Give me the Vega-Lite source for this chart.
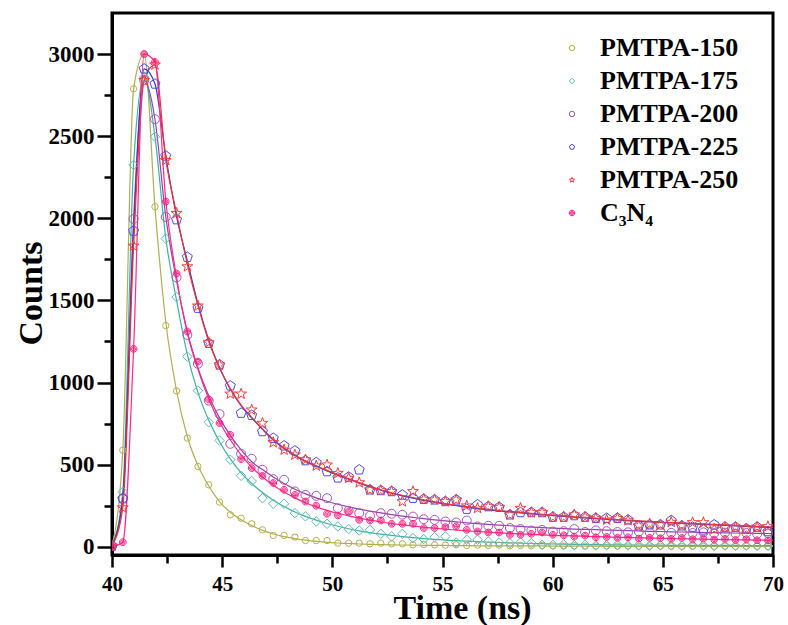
{
"$schema": "https://vega.github.io/schema/vega-lite/v6.json",
"width": 661, "height": 542,
"autosize": "none",
"padding": {"left": 112, "top": 13, "right": 15, "bottom": 70},
"background": "white",
"config": {
  "view": {"stroke": "black", "strokeWidth": 3},
  "font": "Liberation Serif",
  "axis": {"grid": false, "domainColor": "black", "domainWidth": 3, "tickColor": "black", "tickWidth": 2.5,
    "labelFont": "Liberation Serif", "labelFontWeight": "bold", "labelColor": "black", "labelFlush": false, "labelOverlap": false,
    "titleFont": "Liberation Serif", "titleFontWeight": "bold", "titleFontSize": 34, "titleColor": "black"}
},
"datasets": {
"pts": [
{"t":40,"PMTPA-150":2,"PMTPA-175":5,"PMTPA-200":5,"PMTPA-225":5,"PMTPA-250":5,"C3N4":0},
{"t":40.49,"PMTPA-150":588,"PMTPA-175":335,"PMTPA-200":296,"PMTPA-225":293,"PMTPA-250":238,"C3N4":28},
{"t":40.98,"PMTPA-150":2788,"PMTPA-175":2325,"PMTPA-200":1996,"PMTPA-225":1923,"PMTPA-250":1832,"C3N4":1205},
{"t":41.46,"PMTPA-150":3000,"PMTPA-175":2860,"PMTPA-200":2840,"PMTPA-225":2910,"PMTPA-250":2840,"C3N4":3000},
{"t":41.95,"PMTPA-150":2071,"PMTPA-175":2497,"PMTPA-200":2603,"PMTPA-225":2818,"PMTPA-250":2935,"C3N4":2952},
{"t":42.44,"PMTPA-150":1347,"PMTPA-175":1876,"PMTPA-200":2008,"PMTPA-225":2380,"PMTPA-250":2353,"C3N4":2102},
{"t":42.93,"PMTPA-150":949,"PMTPA-175":1520,"PMTPA-200":1640,"PMTPA-225":1992,"PMTPA-250":2031,"C3N4":1664},
{"t":43.42,"PMTPA-150":662,"PMTPA-175":1158,"PMTPA-200":1290,"PMTPA-225":1763,"PMTPA-250":1706,"C3N4":1311},
{"t":43.9,"PMTPA-150":489,"PMTPA-175":951,"PMTPA-200":1114,"PMTPA-225":1453,"PMTPA-250":1467,"C3N4":1128},
{"t":44.39,"PMTPA-150":377,"PMTPA-175":758,"PMTPA-200":890,"PMTPA-225":1240,"PMTPA-250":1244,"C3N4":897},
{"t":44.88,"PMTPA-150":272,"PMTPA-175":647,"PMTPA-200":808,"PMTPA-225":1108,"PMTPA-250":1108,"C3N4":753},
{"t":45.37,"PMTPA-150":195,"PMTPA-175":530,"PMTPA-200":627,"PMTPA-225":980,"PMTPA-250":931,"C3N4":682},
{"t":45.86,"PMTPA-150":174,"PMTPA-175":432,"PMTPA-200":566,"PMTPA-225":814,"PMTPA-250":931,"C3N4":534},
{"t":46.34,"PMTPA-150":140,"PMTPA-175":400,"PMTPA-200":536,"PMTPA-225":801,"PMTPA-250":834,"C3N4":479},
{"t":46.83,"PMTPA-150":103,"PMTPA-175":296,"PMTPA-200":469,"PMTPA-225":702,"PMTPA-250":753,"C3N4":432},
{"t":47.32,"PMTPA-150":69,"PMTPA-175":262,"PMTPA-200":412,"PMTPA-225":661,"PMTPA-250":635,"C3N4":388},
{"t":47.81,"PMTPA-150":69,"PMTPA-175":262,"PMTPA-200":408,"PMTPA-225":615,"PMTPA-250":590,"C3N4":347},
{"t":48.3,"PMTPA-150":59,"PMTPA-175":205,"PMTPA-200":337,"PMTPA-225":584,"PMTPA-250":560,"C3N4":316},
{"t":48.78,"PMTPA-150":38,"PMTPA-175":185,"PMTPA-200":316,"PMTPA-225":525,"PMTPA-250":530,"C3N4":276},
{"t":49.27,"PMTPA-150":38,"PMTPA-175":154,"PMTPA-200":310,"PMTPA-225":513,"PMTPA-250":493,"C3N4":250},
{"t":49.76,"PMTPA-150":38,"PMTPA-175":140,"PMTPA-200":296,"PMTPA-225":458,"PMTPA-250":499,"C3N4":201},
{"t":50.25,"PMTPA-150":22,"PMTPA-175":124,"PMTPA-200":235,"PMTPA-225":420,"PMTPA-250":448,"C3N4":191},
{"t":50.74,"PMTPA-150":22,"PMTPA-175":108,"PMTPA-200":220,"PMTPA-225":425,"PMTPA-250":418,"C3N4":215},
{"t":51.22,"PMTPA-150":22,"PMTPA-175":99,"PMTPA-200":205,"PMTPA-225":469,"PMTPA-250":391,"C3N4":164},
{"t":51.71,"PMTPA-150":18,"PMTPA-175":103,"PMTPA-200":189,"PMTPA-225":347,"PMTPA-250":347,"C3N4":160},
{"t":52.2,"PMTPA-150":22,"PMTPA-175":79,"PMTPA-200":205,"PMTPA-225":343,"PMTPA-250":343,"C3N4":160},
{"t":52.69,"PMTPA-150":18,"PMTPA-175":63,"PMTPA-200":201,"PMTPA-225":337,"PMTPA-250":337,"C3N4":140},
{"t":53.18,"PMTPA-150":18,"PMTPA-175":79,"PMTPA-200":195,"PMTPA-225":316,"PMTPA-250":276,"C3N4":140},
{"t":53.66,"PMTPA-150":12,"PMTPA-175":53,"PMTPA-200":184,"PMTPA-225":296,"PMTPA-250":337,"C3N4":140},
{"t":54.15,"PMTPA-150":14,"PMTPA-175":47,"PMTPA-200":168,"PMTPA-225":290,"PMTPA-250":290,"C3N4":114},
{"t":54.64,"PMTPA-150":12,"PMTPA-175":59,"PMTPA-200":164,"PMTPA-225":286,"PMTPA-250":286,"C3N4":114},
{"t":55.13,"PMTPA-150":10,"PMTPA-175":63,"PMTPA-200":154,"PMTPA-225":276,"PMTPA-250":276,"C3N4":120},
{"t":55.62,"PMTPA-150":12,"PMTPA-175":26,"PMTPA-200":148,"PMTPA-225":286,"PMTPA-250":286,"C3N4":124},
{"t":56.1,"PMTPA-150":8,"PMTPA-175":43,"PMTPA-200":160,"PMTPA-225":229,"PMTPA-250":250,"C3N4":103},
{"t":56.59,"PMTPA-150":10,"PMTPA-175":43,"PMTPA-200":124,"PMTPA-225":256,"PMTPA-250":235,"C3N4":93},
{"t":57.08,"PMTPA-150":8,"PMTPA-175":32,"PMTPA-200":128,"PMTPA-225":245,"PMTPA-250":245,"C3N4":87},
{"t":57.57,"PMTPA-150":10,"PMTPA-175":26,"PMTPA-200":128,"PMTPA-225":241,"PMTPA-250":241,"C3N4":87},
{"t":58.06,"PMTPA-150":6,"PMTPA-175":22,"PMTPA-200":114,"PMTPA-225":195,"PMTPA-250":195,"C3N4":73},
{"t":58.54,"PMTPA-150":8,"PMTPA-175":26,"PMTPA-200":108,"PMTPA-225":209,"PMTPA-250":235,"C3N4":73},
{"t":59.03,"PMTPA-150":6,"PMTPA-175":22,"PMTPA-200":99,"PMTPA-225":209,"PMTPA-250":209,"C3N4":79},
{"t":59.52,"PMTPA-150":8,"PMTPA-175":12,"PMTPA-200":103,"PMTPA-225":209,"PMTPA-250":209,"C3N4":87},
{"t":60.01,"PMTPA-150":6,"PMTPA-175":12,"PMTPA-200":93,"PMTPA-225":181,"PMTPA-250":181,"C3N4":73},
{"t":60.5,"PMTPA-150":5,"PMTPA-175":14,"PMTPA-200":95,"PMTPA-225":181,"PMTPA-250":181,"C3N4":70},
{"t":60.98,"PMTPA-150":6,"PMTPA-175":10,"PMTPA-200":108,"PMTPA-225":190,"PMTPA-250":195,"C3N4":62},
{"t":61.47,"PMTPA-150":4,"PMTPA-175":12,"PMTPA-200":90,"PMTPA-225":181,"PMTPA-250":181,"C3N4":68},
{"t":61.96,"PMTPA-150":5,"PMTPA-175":8,"PMTPA-200":100,"PMTPA-225":174,"PMTPA-250":174,"C3N4":58},
{"t":62.45,"PMTPA-150":6,"PMTPA-175":10,"PMTPA-200":95,"PMTPA-225":174,"PMTPA-250":164,"C3N4":60},
{"t":62.94,"PMTPA-150":4,"PMTPA-175":12,"PMTPA-200":90,"PMTPA-225":174,"PMTPA-250":174,"C3N4":55},
{"t":63.42,"PMTPA-150":5,"PMTPA-175":8,"PMTPA-200":88,"PMTPA-225":164,"PMTPA-250":160,"C3N4":58},
{"t":63.91,"PMTPA-150":3,"PMTPA-175":10,"PMTPA-200":92,"PMTPA-225":128,"PMTPA-250":128,"C3N4":50},
{"t":64.4,"PMTPA-150":5,"PMTPA-175":6,"PMTPA-200":88,"PMTPA-225":134,"PMTPA-250":140,"C3N4":55},
{"t":64.89,"PMTPA-150":4,"PMTPA-175":10,"PMTPA-200":92,"PMTPA-225":134,"PMTPA-250":134,"C3N4":52},
{"t":65.38,"PMTPA-150":4,"PMTPA-175":8,"PMTPA-200":85,"PMTPA-225":160,"PMTPA-250":150,"C3N4":48},
{"t":65.86,"PMTPA-150":3,"PMTPA-175":6,"PMTPA-200":90,"PMTPA-225":128,"PMTPA-250":128,"C3N4":54},
{"t":66.35,"PMTPA-150":4,"PMTPA-175":9,"PMTPA-200":84,"PMTPA-225":120,"PMTPA-250":148,"C3N4":46},
{"t":66.84,"PMTPA-150":3,"PMTPA-175":8,"PMTPA-200":88,"PMTPA-225":103,"PMTPA-250":148,"C3N4":50},
{"t":67.33,"PMTPA-150":3,"PMTPA-175":5,"PMTPA-200":82,"PMTPA-225":134,"PMTPA-250":108,"C3N4":44},
{"t":67.82,"PMTPA-150":4,"PMTPA-175":8,"PMTPA-200":86,"PMTPA-225":120,"PMTPA-250":120,"C3N4":48},
{"t":68.3,"PMTPA-150":2,"PMTPA-175":6,"PMTPA-200":80,"PMTPA-225":120,"PMTPA-250":120,"C3N4":42},
{"t":68.79,"PMTPA-150":3,"PMTPA-175":7,"PMTPA-200":84,"PMTPA-225":110,"PMTPA-250":110,"C3N4":46},
{"t":69.28,"PMTPA-150":3,"PMTPA-175":5,"PMTPA-200":78,"PMTPA-225":120,"PMTPA-250":120,"C3N4":40},
{"t":69.77,"PMTPA-150":2,"PMTPA-175":6,"PMTPA-200":82,"PMTPA-225":93,"PMTPA-250":124,"C3N4":38}
],
"fit": [
{"t":40,"PMTPA-150":2,"PMTPA-175":5,"PMTPA-200":5,"PMTPA-225":5,"PMTPA-250":5,"C3N4":0},
{"t":40.49,"PMTPA-150":588,"PMTPA-175":335,"PMTPA-200":296,"PMTPA-225":293,"PMTPA-250":238,"C3N4":28},
{"t":40.98,"PMTPA-150":2788,"PMTPA-175":2325,"PMTPA-200":1996,"PMTPA-225":1923,"PMTPA-250":1832,"C3N4":1205},
{"t":41.46,"PMTPA-150":3000,"PMTPA-175":2860,"PMTPA-200":2840,"PMTPA-225":2910,"PMTPA-250":2840,"C3N4":3000},
{"t":41.95,"PMTPA-150":2071,"PMTPA-175":2497,"PMTPA-200":2603,"PMTPA-225":2818,"PMTPA-250":2935,"C3N4":2952},
{"t":42.44,"PMTPA-150":1370,"PMTPA-175":1880,"PMTPA-200":2010,"PMTPA-225":2380,"PMTPA-250":2360,"C3N4":2110},
{"t":42.93,"PMTPA-150":950,"PMTPA-175":1500,"PMTPA-200":1620,"PMTPA-225":2010,"PMTPA-250":2030,"C3N4":1640},
{"t":43.42,"PMTPA-150":670,"PMTPA-175":1170,"PMTPA-200":1310,"PMTPA-225":1740,"PMTPA-250":1720,"C3N4":1300},
{"t":43.9,"PMTPA-150":495,"PMTPA-175":940,"PMTPA-200":1090,"PMTPA-225":1480,"PMTPA-250":1470,"C3N4":1080},
{"t":44.39,"PMTPA-150":370,"PMTPA-175":770,"PMTPA-200":920,"PMTPA-225":1260,"PMTPA-250":1250,"C3N4":900},
{"t":44.88,"PMTPA-150":275,"PMTPA-175":640,"PMTPA-200":785,"PMTPA-225":1090,"PMTPA-250":1090,"C3N4":760},
{"t":45.37,"PMTPA-150":210,"PMTPA-175":535,"PMTPA-200":678,"PMTPA-225":960,"PMTPA-250":962,"C3N4":650},
{"t":45.86,"PMTPA-150":165,"PMTPA-175":450,"PMTPA-200":590,"PMTPA-225":860,"PMTPA-250":863,"C3N4":560},
{"t":46.34,"PMTPA-150":130,"PMTPA-175":385,"PMTPA-200":518,"PMTPA-225":785,"PMTPA-250":788,"C3N4":485},
{"t":46.83,"PMTPA-150":100,"PMTPA-175":330,"PMTPA-200":470,"PMTPA-225":715,"PMTPA-250":718,"C3N4":425},
{"t":47.32,"PMTPA-150":78,"PMTPA-175":283,"PMTPA-200":425,"PMTPA-225":650,"PMTPA-250":653,"C3N4":375},
{"t":47.81,"PMTPA-150":62,"PMTPA-175":245,"PMTPA-200":385,"PMTPA-225":598,"PMTPA-250":601,"C3N4":333},
{"t":48.3,"PMTPA-150":50,"PMTPA-175":212,"PMTPA-200":350,"PMTPA-225":556,"PMTPA-250":559,"C3N4":298},
{"t":48.78,"PMTPA-150":40,"PMTPA-175":185,"PMTPA-200":322,"PMTPA-225":520,"PMTPA-250":523,"C3N4":268},
{"t":49.27,"PMTPA-150":33,"PMTPA-175":162,"PMTPA-200":298,"PMTPA-225":490,"PMTPA-250":493,"C3N4":243},
{"t":49.76,"PMTPA-150":27,"PMTPA-175":142,"PMTPA-200":277,"PMTPA-225":462,"PMTPA-250":465,"C3N4":222},
{"t":50.25,"PMTPA-150":23,"PMTPA-175":125,"PMTPA-200":259,"PMTPA-225":436,"PMTPA-250":439,"C3N4":204},
{"t":50.74,"PMTPA-150":20,"PMTPA-175":110,"PMTPA-200":243,"PMTPA-225":412,"PMTPA-250":415,"C3N4":188},
{"t":51.22,"PMTPA-150":17,"PMTPA-175":97,"PMTPA-200":229,"PMTPA-225":388,"PMTPA-250":391,"C3N4":174},
{"t":51.71,"PMTPA-150":15,"PMTPA-175":86,"PMTPA-200":217,"PMTPA-225":365,"PMTPA-250":368,"C3N4":162},
{"t":52.2,"PMTPA-150":13,"PMTPA-175":77,"PMTPA-200":206,"PMTPA-225":344,"PMTPA-250":347,"C3N4":151},
{"t":52.69,"PMTPA-150":12,"PMTPA-175":69,"PMTPA-200":196,"PMTPA-225":326,"PMTPA-250":329,"C3N4":142},
{"t":53.18,"PMTPA-150":11,"PMTPA-175":62,"PMTPA-200":187,"PMTPA-225":310,"PMTPA-250":313,"C3N4":133},
{"t":53.66,"PMTPA-150":10,"PMTPA-175":56,"PMTPA-200":179,"PMTPA-225":296,"PMTPA-250":299,"C3N4":126},
{"t":54.15,"PMTPA-150":9,"PMTPA-175":50,"PMTPA-200":171,"PMTPA-225":283,"PMTPA-250":286,"C3N4":119},
{"t":54.64,"PMTPA-150":8,"PMTPA-175":45,"PMTPA-200":164,"PMTPA-225":271,"PMTPA-250":274,"C3N4":113},
{"t":55.13,"PMTPA-150":8,"PMTPA-175":41,"PMTPA-200":158,"PMTPA-225":260,"PMTPA-250":263,"C3N4":107},
{"t":55.62,"PMTPA-150":7,"PMTPA-175":37,"PMTPA-200":152,"PMTPA-225":250,"PMTPA-250":253,"C3N4":102},
{"t":56.1,"PMTPA-150":7,"PMTPA-175":34,"PMTPA-200":146,"PMTPA-225":241,"PMTPA-250":244,"C3N4":97},
{"t":56.59,"PMTPA-150":6,"PMTPA-175":31,"PMTPA-200":141,"PMTPA-225":233,"PMTPA-250":236,"C3N4":93},
{"t":57.08,"PMTPA-150":6,"PMTPA-175":28,"PMTPA-200":136,"PMTPA-225":225,"PMTPA-250":228,"C3N4":89},
{"t":57.57,"PMTPA-150":6,"PMTPA-175":26,"PMTPA-200":132,"PMTPA-225":218,"PMTPA-250":221,"C3N4":85},
{"t":58.06,"PMTPA-150":5,"PMTPA-175":24,"PMTPA-200":128,"PMTPA-225":212,"PMTPA-250":215,"C3N4":82},
{"t":58.54,"PMTPA-150":5,"PMTPA-175":22,"PMTPA-200":124,"PMTPA-225":206,"PMTPA-250":209,"C3N4":79},
{"t":59.03,"PMTPA-150":5,"PMTPA-175":20,"PMTPA-200":120,"PMTPA-225":200,"PMTPA-250":203,"C3N4":76},
{"t":59.52,"PMTPA-150":5,"PMTPA-175":19,"PMTPA-200":117,"PMTPA-225":195,"PMTPA-250":198,"C3N4":73},
{"t":60.01,"PMTPA-150":4,"PMTPA-175":17,"PMTPA-200":114,"PMTPA-225":190,"PMTPA-250":193,"C3N4":70},
{"t":60.5,"PMTPA-150":4,"PMTPA-175":16,"PMTPA-200":111,"PMTPA-225":185,"PMTPA-250":188,"C3N4":68},
{"t":60.98,"PMTPA-150":4,"PMTPA-175":15,"PMTPA-200":108,"PMTPA-225":180,"PMTPA-250":183,"C3N4":66},
{"t":61.47,"PMTPA-150":4,"PMTPA-175":14,"PMTPA-200":106,"PMTPA-225":176,"PMTPA-250":179,"C3N4":64},
{"t":61.96,"PMTPA-150":4,"PMTPA-175":13,"PMTPA-200":104,"PMTPA-225":171,"PMTPA-250":174,"C3N4":62},
{"t":62.45,"PMTPA-150":3,"PMTPA-175":12,"PMTPA-200":102,"PMTPA-225":167,"PMTPA-250":170,"C3N4":60},
{"t":62.94,"PMTPA-150":3,"PMTPA-175":12,"PMTPA-200":100,"PMTPA-225":163,"PMTPA-250":166,"C3N4":58},
{"t":63.42,"PMTPA-150":3,"PMTPA-175":11,"PMTPA-200":98,"PMTPA-225":159,"PMTPA-250":162,"C3N4":56},
{"t":63.91,"PMTPA-150":3,"PMTPA-175":11,"PMTPA-200":96,"PMTPA-225":155,"PMTPA-250":158,"C3N4":55},
{"t":64.4,"PMTPA-150":3,"PMTPA-175":10,"PMTPA-200":94,"PMTPA-225":152,"PMTPA-250":155,"C3N4":53},
{"t":64.89,"PMTPA-150":3,"PMTPA-175":10,"PMTPA-200":93,"PMTPA-225":148,"PMTPA-250":151,"C3N4":52},
{"t":65.38,"PMTPA-150":3,"PMTPA-175":9,"PMTPA-200":91,"PMTPA-225":145,"PMTPA-250":148,"C3N4":50},
{"t":65.86,"PMTPA-150":3,"PMTPA-175":9,"PMTPA-200":90,"PMTPA-225":142,"PMTPA-250":145,"C3N4":49},
{"t":66.35,"PMTPA-150":3,"PMTPA-175":9,"PMTPA-200":89,"PMTPA-225":139,"PMTPA-250":142,"C3N4":48},
{"t":66.84,"PMTPA-150":3,"PMTPA-175":8,"PMTPA-200":87,"PMTPA-225":136,"PMTPA-250":139,"C3N4":46},
{"t":67.33,"PMTPA-150":3,"PMTPA-175":8,"PMTPA-200":86,"PMTPA-225":133,"PMTPA-250":136,"C3N4":45},
{"t":67.82,"PMTPA-150":3,"PMTPA-175":8,"PMTPA-200":85,"PMTPA-225":130,"PMTPA-250":133,"C3N4":44},
{"t":68.3,"PMTPA-150":3,"PMTPA-175":8,"PMTPA-200":84,"PMTPA-225":127,"PMTPA-250":130,"C3N4":43},
{"t":68.79,"PMTPA-150":3,"PMTPA-175":7,"PMTPA-200":83,"PMTPA-225":124,"PMTPA-250":127,"C3N4":42},
{"t":69.28,"PMTPA-150":3,"PMTPA-175":7,"PMTPA-200":82,"PMTPA-225":121,"PMTPA-250":124,"C3N4":41},
{"t":69.77,"PMTPA-150":3,"PMTPA-175":7,"PMTPA-200":81,"PMTPA-225":118,"PMTPA-250":121,"C3N4":40},
{"t":70,"PMTPA-150":3,"PMTPA-175":7,"PMTPA-200":80,"PMTPA-225":117,"PMTPA-250":120,"C3N4":40}
]
},
"layer": [
{
  "data": {"name": "fit"},
  "transform": [{"fold": ["PMTPA-150","PMTPA-175","PMTPA-200","PMTPA-225","PMTPA-250","C3N4"], "as": ["series","counts"]}],
  "mark": {"type": "line", "strokeWidth": 1.2, "interpolate": "monotone", "clip": true},
  "encoding": {
    "x": {"field": "t", "type": "quantitative", "scale": {"domain": [40, 70], "nice": false, "zero": false},
      "axis": {"title": "Time (ns)", "values": [40,42.5,45,47.5,50,52.5,55,57.5,60,62.5,65,67.5,70],
        "labelExpr": "datum.value % 5 === 0 ? datum.label : ''",
        "tickSize": {"condition": {"test": "datum.value % 5 === 0", "value": 12}, "value": 8},
        "labelFontSize": 21, "labelPadding": 6, "titleX": 350, "titleY": 63, "titleBaseline": "alphabetic", "titleAlign": "center", "titleAnchor": null}},
    "y": {"field": "counts", "type": "quantitative", "scale": {"domain": [-50, 3250], "nice": false, "zero": false},
      "axis": {"title": "Counts", "values": [0,250,500,750,1000,1250,1500,1750,2000,2250,2500,2750,3000], "format": "d",
        "labelExpr": "datum.value % 500 === 0 ? datum.label : ''",
        "tickSize": {"condition": {"test": "datum.value % 500 === 0", "value": 15}, "value": 8},
        "labelFontSize": 23, "labelPadding": 3, "titleX": -71, "titleY": 280, "titleAngle": 270, "titleBaseline": "alphabetic", "titleAlign": "center", "titleAnchor": null}},
    "stroke": {"field": "series", "type": "nominal", "legend": null,
      "scale": {"domain": ["C3N4","PMTPA-250","PMTPA-225","PMTPA-200","PMTPA-175","PMTPA-150"],
        "range": ["#ff2a8a","#f03232","#3535cc","#9c3fae","#3fb0a6","#b0ae55"]}}
  }
},
{
  "data": {"name": "pts"},
  "transform": [{"fold": ["PMTPA-150","PMTPA-175","PMTPA-200","PMTPA-225","PMTPA-250","C3N4"], "as": ["series","counts"]}],
  "mark": {"type": "point", "filled": false, "strokeWidth": 1, "opacity": 1, "clip": true},
  "encoding": {
    "x": {"field": "t", "type": "quantitative"},
    "y": {"field": "counts", "type": "quantitative"},
    "color": {"field": "series", "type": "nominal",
      "scale": {"domain": ["PMTPA-150","PMTPA-175","PMTPA-200","PMTPA-225","PMTPA-250","C3N4"],
        "range": ["#b5b04a","#5cbcb4","#a855b5","#4a4aee","#f53c3c","#ff1a7e"]},
      "legend": {"title": null, "orient": "none", "legendX": 447, "legendY": 22, "padding": 0, "rowPadding": 7,
        "symbolSize": 30, "symbolStrokeWidth": 1, "labelOffset": 15, "labelBaseline": "middle",
        "labelFont": "Liberation Serif", "labelFontWeight": "bold", "labelFontSize": 26, "labelColor": "black",
        "labelExpr": "datum.label == 'C3N4' ? ' C₃N₄' : datum.label"}},
    "shape": {"field": "series", "type": "nominal",
      "scale": {"domain": ["PMTPA-150","PMTPA-175","PMTPA-200","PMTPA-225","PMTPA-250","C3N4"],
        "range": ["circle","diamond","circle","M0,-1L0.951,-0.309L0.588,0.809L-0.588,0.809L-0.951,-0.309Z","M0,-1L0.235,-0.324L0.951,-0.309L0.38,0.124L0.588,0.809L0,0.4L-0.588,0.809L-0.38,0.124L-0.951,-0.309L-0.235,-0.324Z","M-1,0A1,1 0 1,1 1,0A1,1 0 1,1 -1,0M-0.62,0A0.62,0.62 0 1,1 0.62,0A0.62,0.62 0 1,1 -0.62,0M-0.25,0A0.25,0.25 0 1,1 0.25,0A0.25,0.25 0 1,1 -0.25,0"]}},
    "size": {"field": "series", "type": "nominal", "legend": null,
      "scale": {"type": "ordinal", "domain": ["C3N4","PMTPA-250","PMTPA-225","PMTPA-200","PMTPA-175","PMTPA-150"],
        "range": [45, 130, 110, 80, 90, 40]}}
  }
}
]
}
